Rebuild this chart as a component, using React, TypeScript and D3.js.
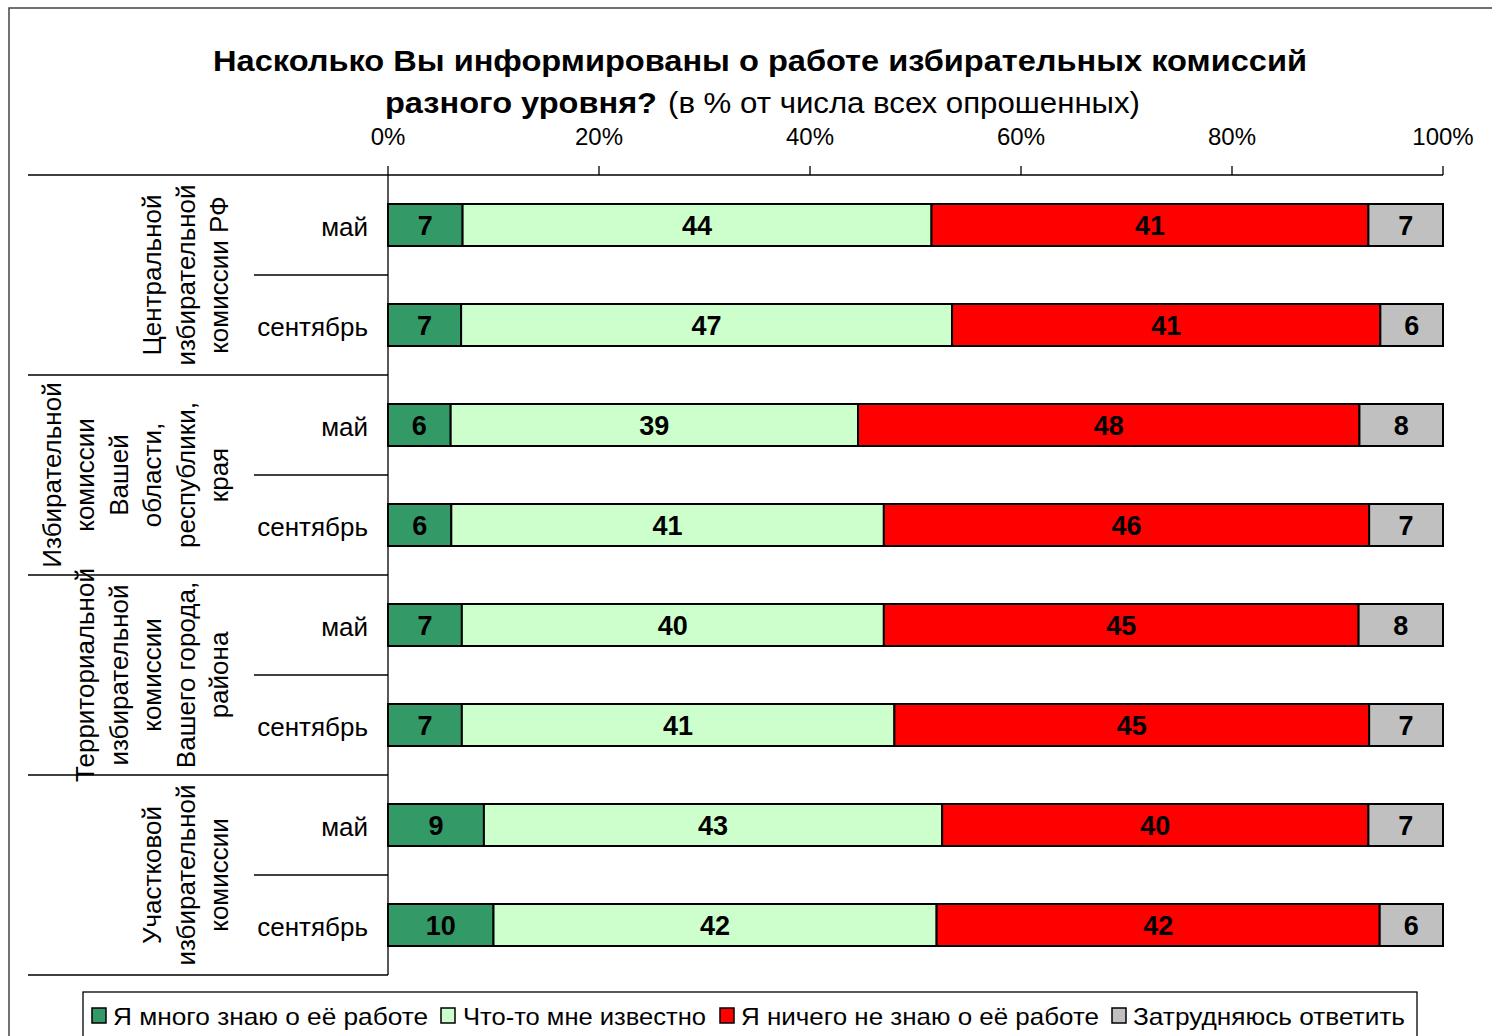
import React from "react";
import * as d3 from "d3";

const groups = [
  ["Центральной", "избирательной", "комиссии РФ"],
  ["Избирательной", "комиссии", "Вашей", "области,", "республики,", "края"],
  ["Территориальной", "избирательной", "комиссии", "Вашего города,", "района"],
  ["Участковой", "избирательной", "комиссии"],
];
const periods = ["май", "сентябрь"];
const seriesNames = [
  "Я много знаю о её работе",
  "Что-то мне известно",
  "Я ничего не знаю о её работе",
  "Затрудняюсь ответить",
];
const seriesColors = ["#339966", "#ccffcc", "#ff0000", "#c0c0c0"];
const muchValues = [7, 7, 6, 6, 7, 7, 9, 10];
const somethingValues = [44, 47, 39, 41, 40, 41, 43, 42];
const nothingValues = [41, 41, 48, 46, 45, 45, 40, 42];
const hardValues = [7, 6, 8, 7, 8, 7, 7, 6];
const tickValues = [0, 20, 40, 60, 80, 100];

const FONT = "'Liberation Sans', Arial, sans-serif";

export default function App() {
  const W = 1492, H = 1036;
  const left = 388, right = 1443, top = 175, bottom = 975;
  const x = d3.scaleLinear().domain([0, 100]).range([left, right]);
  const rows = d3.range(groups.length * periods.length);
  const y = d3
    .scaleBand<number>()
    .domain(rows)
    .range([top, bottom])
    .paddingInner(0.58)
    .paddingOuter(0.29);
  const step = y.step();
  const series = [muchValues, somethingValues, nothingValues, hardValues];
  const table = rows.map((r) => {
    const vals = series.map((s) => s[r]);
    const total = d3.sum(vals);
    let acc = 0;
    return vals.map((v, k) => {
      const x0 = (acc / total) * 100;
      acc += v;
      const x1 = (acc / total) * 100;
      return { v, x0, x1, k };
    });
  });

  const legendItems = [
    { sx: 92, tx: 113, tl: 315 },
    { sx: 441, tx: 463, tl: 243 },
    { sx: 720, tx: 741, tl: 358 },
    { sx: 1112, tx: 1133, tl: 272 },
  ];

  return (
    <svg
      width={W}
      height={H}
      style={{ position: "absolute", left: 0, top: 0, background: "#fff" }}
      fontFamily={FONT}
    >
      <rect x={0} y={0} width={W} height={H} fill="#fff" />
      <rect x={9} y={8} width={W + 20} height={H + 20} fill="none" stroke="#444" strokeWidth={1.5} />
      {/* title */}
      <text x={760} y={71} textAnchor="middle" fontSize={30} fontWeight="bold" fill="#000" textLength={1094} lengthAdjust="spacingAndGlyphs">
        Насколько Вы информированы о работе избирательных комиссий
      </text>
      <text x={385} y={113} fontSize={30} fontWeight="bold" fill="#000" textLength={272} lengthAdjust="spacingAndGlyphs">
        разного уровня?
      </text>
      <text x={668} y={113} fontSize={30} fill="#000" textLength={472} lengthAdjust="spacingAndGlyphs">
        (в % от числа всех опрошенных)
      </text>
      {/* axis */}
      <line x1={28} x2={right} y1={top} y2={top} stroke="#000" strokeWidth={1.3} />
      {tickValues.map((t) => (
        <g key={t}>
          <line x1={x(t)} x2={x(t)} y1={top - 9} y2={top} stroke="#000" strokeWidth={1.3} />
          <text x={x(t)} y={145} textAnchor="middle" fontSize={24} fill="#000">
            {t}%
          </text>
        </g>
      ))}
      <line x1={left} x2={left} y1={top} y2={bottom} stroke="#000" strokeWidth={1.3} />
      {/* group separators */}
      {groups.map((g, gi) => {
        const yTop = top + gi * step * 2;
        const yMid = yTop + step;
        const yBot = yTop + step * 2;
        const cy = yMid;
        const n = g.length;
        return (
          <g key={gi}>
            <line x1={28} x2={left} y1={yBot} y2={yBot} stroke="#000" strokeWidth={1.3} />
            <line x1={254} x2={left} y1={yMid} y2={yMid} stroke="#000" strokeWidth={1.3} />
            {g.map((line, li) => {
              const lx = 219 - (n - 1 - li) * 33.5;
              return (
                <text
                  key={li}
                  transform={`translate(${lx},${cy}) rotate(-90)`}
                  textAnchor="middle"
                  dominantBaseline="central"
                  fontSize={26}
                  fill="#000"
                >
                  {line}
                </text>
              );
            })}
          </g>
        );
      })}
      {/* period labels */}
      {rows.map((r) => (
        <text
          key={r}
          x={368}
          y={(y(r) as number) + y.bandwidth() / 2 + 2}
          textAnchor="end"
          dominantBaseline="central"
          fontSize={26}
          fill="#000"
        >
          {periods[r % 2]}
        </text>
      ))}
      {/* bars */}
      {table.map((segs, r) =>
        segs.map((s) => (
          <g key={`${r}-${s.k}`}>
            <rect
              x={x(s.x0)}
              y={y(r)}
              width={x(s.x1) - x(s.x0)}
              height={y.bandwidth()}
              fill={seriesColors[s.k]}
              stroke="#000"
              strokeWidth={2}
            />
            <text
              x={(x(s.x0) + x(s.x1)) / 2}
              y={(y(r) as number) + y.bandwidth() / 2 + 1}
              textAnchor="middle"
              dominantBaseline="central"
              fontSize={27}
              fontWeight="bold"
              fill="#000"
            >
              {s.v}
            </text>
          </g>
        ))
      )}
      {/* legend */}
      <rect x={83} y={992} width={1334} height={60} fill="#fff" stroke="#000" strokeWidth={1.3} />
      {seriesNames.map((name, i) => (
        <g key={i}>
          <rect x={legendItems[i].sx} y={1008} width={14} height={15} fill={seriesColors[i]} stroke="#000" strokeWidth={1.5} />
          <text
            x={legendItems[i].tx}
            y={1016}
            dominantBaseline="central"
            fontSize={24}
            fill="#000"
            textLength={legendItems[i].tl}
            lengthAdjust="spacingAndGlyphs"
          >
            {name}
          </text>
        </g>
      ))}
    </svg>
  );
}
